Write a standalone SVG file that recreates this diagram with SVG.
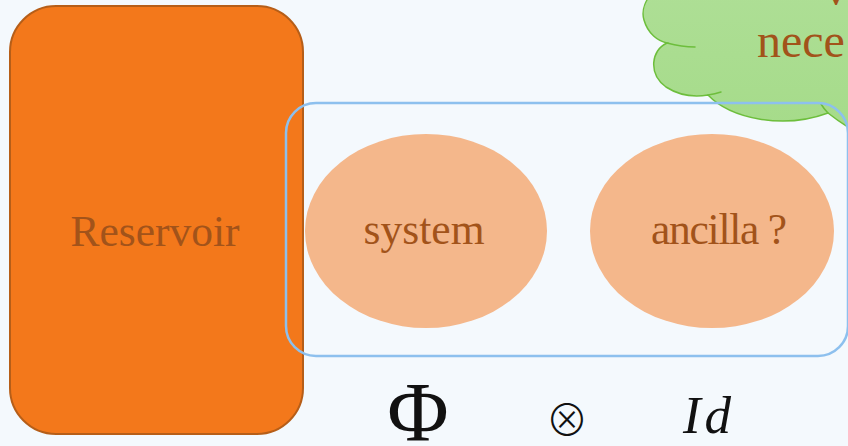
<svg xmlns="http://www.w3.org/2000/svg" width="848" height="446" viewBox="0 0 848 446">
  <defs>
    <style>
      .lbl { font-family: "Liberation Serif", "DejaVu Serif", serif; font-size: 43.5px; fill: #A2531A; text-anchor: middle; }
      .math { font-family: "Liberation Serif", "DejaVu Serif", serif; fill: #111111; text-anchor: middle; }
      .blob { fill: #F4B78B; }
      .stub { fill: none; stroke: #6DBE3C; stroke-width: 1.5; stroke-linecap: round; }
    </style>
    <linearGradient id="cloudFill" x1="0" y1="0" x2="0" y2="1">
      <stop offset="0" stop-color="#AFDF97"/>
      <stop offset="1" stop-color="#A5DB89"/>
    </linearGradient>
  </defs>

  <rect width="848" height="446" fill="#F4F9FD"/>

  <!-- reservoir block -->
  <g id="reservoir">
    <rect x="10" y="6" width="293" height="428" rx="46" ry="46" fill="#F3781B" stroke="#B65E18" stroke-width="2"/>
    <text class="lbl" x="155" y="246" fill="#A5581C" textLength="169">Reservoir</text>
  </g>

  <!-- thought cloud, top right -->
  <g id="cloud">
    <path d="M 702,-30 C 662,-25 638,0 644,20 C 648,34 658,41 667,43
             C 651,50 648,74 666,87 C 680,96 696,97 708,95
             C 730,118 782,130 828,113
             C 838,121 848,128 870,140 L 870,-30 Z"
          fill="url(#cloudFill)" stroke="#6DBE3C" stroke-width="1.5"/>
    <path class="stub" d="M 667,43 Q 682,47 695,47"/>
    <path class="stub" d="M 708,95 Q 715,94 721,92"/>
    <path class="stub" d="M 828,113 Q 824,109 821,104"/>
    <text class="lbl" x="757" y="57" style="text-anchor:start; font-size:48px">nece</text>
    <text class="lbl" x="825" y="5" style="text-anchor:start">v</text>
  </g>

  <!-- system node -->
  <g id="system">
    <ellipse class="blob" cx="426" cy="231" rx="121" ry="97"/>
    <text class="lbl" x="424" y="244" textLength="121">system</text>
  </g>

  <!-- ancilla node -->
  <g id="ancilla">
    <ellipse class="blob" cx="712" cy="231" rx="122" ry="97"/>
    <text class="lbl" x="719" y="244" textLength="136">ancilla ?</text>
  </g>

  <!-- grouping frame around system and ancilla -->
  <g id="connectors">
    <rect x="286" y="103" width="562" height="253" rx="30" ry="30" fill="none" stroke="#8DC0EE" stroke-width="2.5"/>
  </g>

  <!-- channel notation under the frame -->
  <g id="formula">
    <text class="math" x="418" y="441" font-size="84">Φ</text>
    <text class="math" x="567" y="435.5" font-size="43" font-weight="300" style="font-family:'Noto Sans CJK JP','DejaVu Sans',sans-serif">⊗</text>
    <text class="math" x="709" y="433" font-size="53" font-style="italic" letter-spacing="4">Id</text>
  </g>
</svg>
